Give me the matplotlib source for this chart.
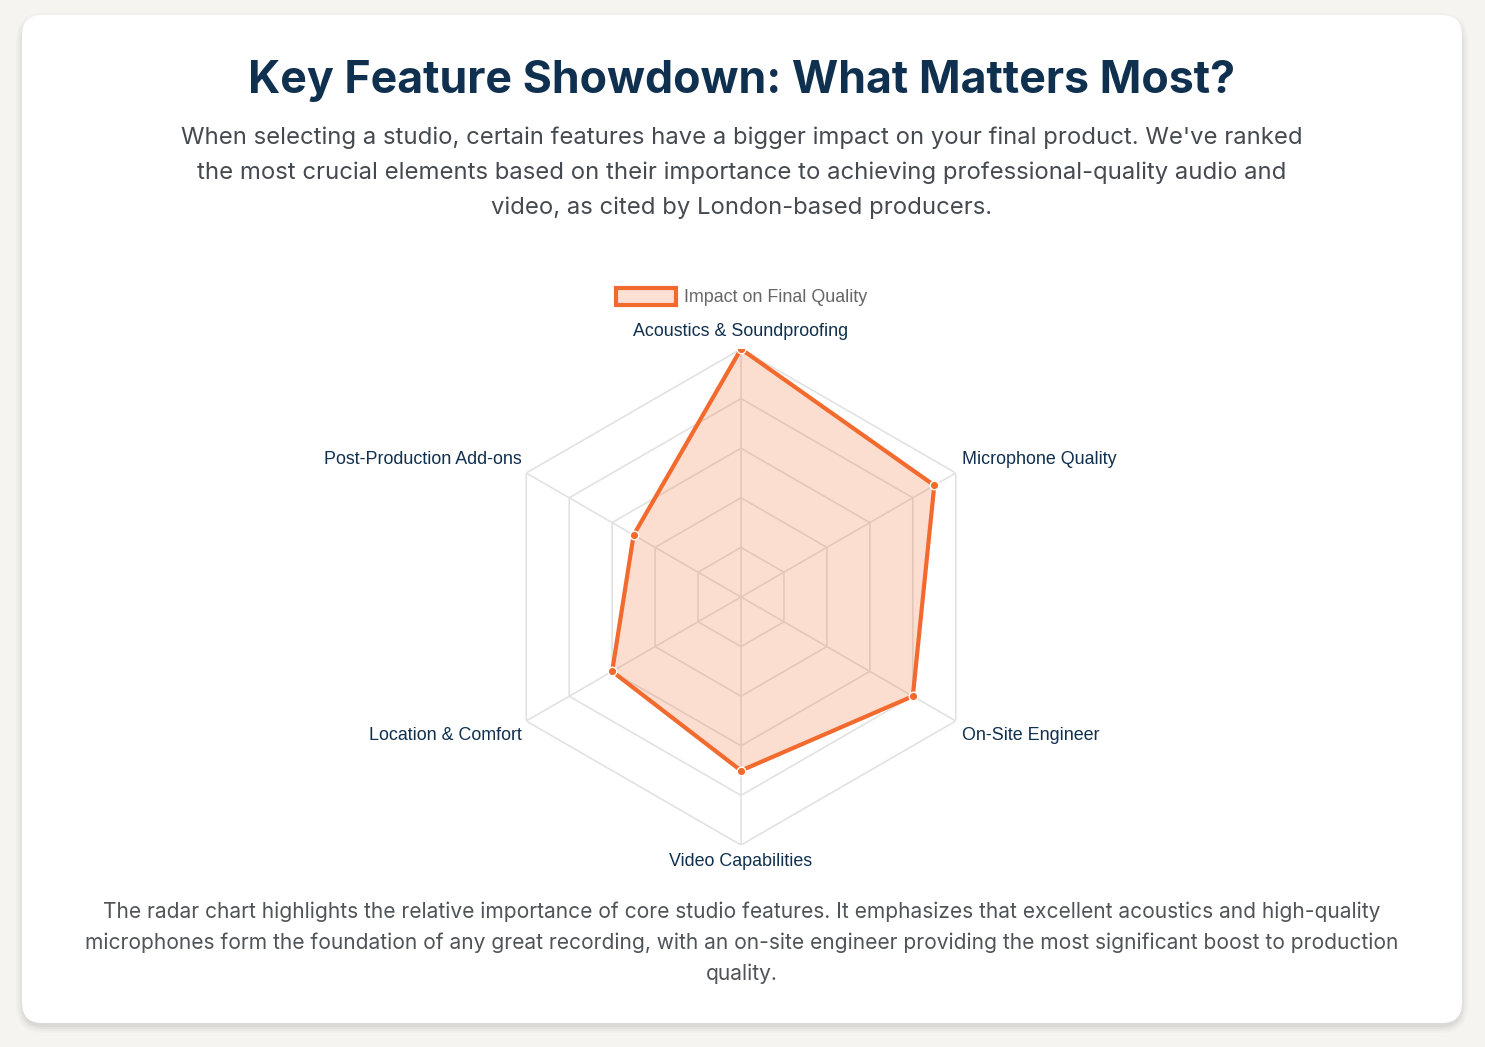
import numpy as np
import matplotlib.pyplot as plt
from matplotlib.patches import FancyBboxPatch, Rectangle

# data
features = ["Acoustics & Soundproofing", "Microphone Quality", "On-Site Engineer",
            "Video Capabilities", "Location & Comfort", "Post-Production Add-ons"]
impact = [10, 9, 8, 7, 6, 5]
ring_levels = [2, 4, 6, 8, 10]
series_name = "Impact on Final Quality"

title = "Key Feature Showdown: What Matters Most?"
subtitle = ("When selecting a studio, certain features have a bigger impact on your final product. We've ranked\n"
            "the most crucial elements based on their importance to achieving professional-quality audio and\n"
            "video, as cited by London-based producers.")
footer = ("The radar chart highlights the relative importance of core studio features. It emphasizes that excellent acoustics and high-quality\n"
          "microphones form the foundation of any great recording, with an on-site engineer providing the most significant boost to production\n"
          "quality.")

orange = "#f26a2e"
navy = "#10304f"

W, H = 1485, 1047
fig = plt.figure(figsize=(W / 100, H / 100), dpi=100)
fig.patch.set_facecolor("#f5f4f1")

# card with a soft shadow
bg = fig.add_axes([0, 0, 1, 1])
bg.set_xlim(0, W)
bg.set_ylim(H, 0)
bg.axis("off")
for i, a in enumerate([0.02, 0.025, 0.03, 0.035]):
    g = 8 - 2 * i
    bg.add_patch(FancyBboxPatch((22 - g + 2, 15 - g + 6), 1440 + 2 * g - 4, 1008 + 2 * g - 4,
                                boxstyle="round,pad=0,rounding_size=%d" % (20 + g),
                                fc="#000000", ec="none", alpha=a))
bg.add_patch(FancyBboxPatch((22, 15), 1440, 1008, boxstyle="round,pad=0,rounding_size=20",
                            fc="white", ec="none"))

bg.text(742, 81, title, ha="center", va="center", fontsize=32.2, fontweight="bold",
        family="Inter", color=navy)
bg.text(742, 173, subtitle, ha="center", va="center", fontsize=17.2, family="Inter",
        color="#454a50", linespacing=1.72, multialignment="center")
bg.text(742, 943, footer, ha="center", va="center", fontsize=15.1, family="Inter",
        color="#4f5458", linespacing=1.65, multialignment="center")

# legend
bg.add_patch(Rectangle((615.5, 287.5), 60, 17, fc="#fde0d4", ec=orange, lw=3))
bg.text(684, 297, series_name, ha="left", va="center", fontsize=12.9,
        family="Liberation Sans", color="#666666")

# radar
cx, cy, R = 741, 597, 248
ax = fig.add_axes([(cx - R) / W, (H - cy - R) / H, 2 * R / W, 2 * R / H], projection="polar")
ax.set_theta_offset(np.pi / 2)
ax.set_theta_direction(-1)
ax.set_ylim(0, 10)
ax.grid(False)
ax.set_xticks([])
ax.set_yticks([])
ax.spines["polar"].set_visible(False)
ax.patch.set_alpha(0)

n = len(features)
theta = np.arange(n) * 2 * np.pi / n
closed = np.append(theta, theta[0])

for lv in ring_levels:
    ax.plot(closed, [lv] * (n + 1), color="#e2e2e2", lw=1.2, zorder=1)
for t in theta:
    ax.plot([t, t], [0, ring_levels[-1]], color="#e2e2e2", lw=1.2, zorder=1)

vals = np.append(impact, impact[0])
ax.fill(closed, vals, color=orange, alpha=0.22, lw=0, zorder=2)
ax.plot(closed, vals, color=orange, lw=3, zorder=3)
ax.scatter(theta, impact, s=38, color=orange, edgecolors="white", linewidths=1, zorder=4)

offsets = [(0, 17, "center"), (6, 14, "left"), (6, -14, "left"),
           (0, -17, "center"), (-4, -14, "right"), (-4, 14, "right")]
for t, name, (dx, dy, ha) in zip(theta, features, offsets):
    ax.annotate(name, xy=(t, ring_levels[-1]), xytext=(dx, dy), textcoords="offset pixels",
                ha=ha, va="center", fontsize=12.9, family="Liberation Sans", color=navy,
                annotation_clip=False)

fig.savefig("out.png", dpi=100, facecolor=fig.get_facecolor())
